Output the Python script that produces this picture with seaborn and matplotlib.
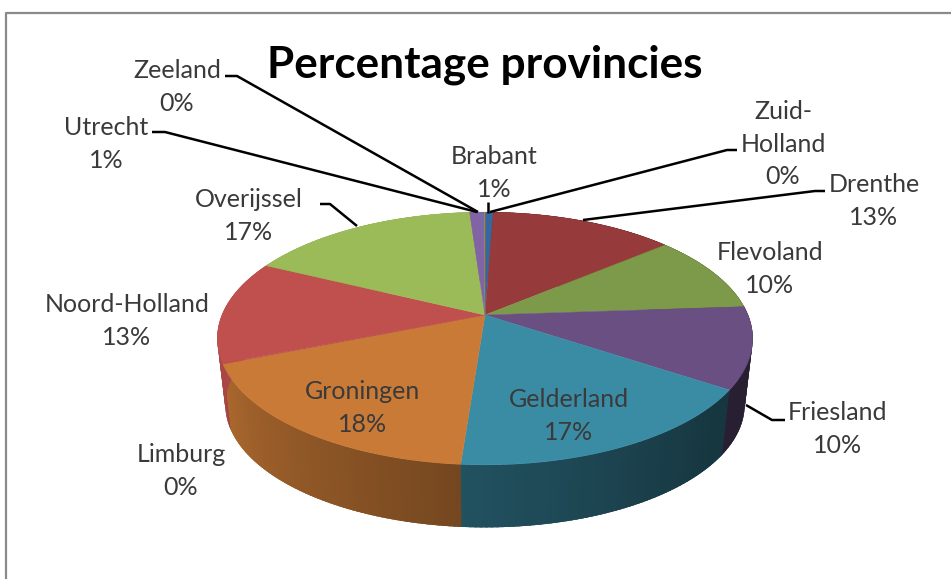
"""Percentage provincies: 3D-look pie, drawn with a perspective projection"""

import numpy as np
import matplotlib
matplotlib.use('Agg')
import matplotlib.pyplot as plt
import seaborn as sns

provinces = ['Brabant', 'Drenthe', 'Flevoland', 'Friesland', 'Gelderland', 'Groningen',
             'Limburg', 'Noord-Holland', 'Overijssel', 'Utrecht', 'Zeeland', 'Zuid-Holland']
percent = [0.6, 13.3, 10.0, 10.4, 16.9, 17.7, 0.1, 13.2, 16.7, 1.0, 0.05, 0.05]
slice_colors = ['#35689F', '#963A3B', '#7C9A49', '#6A4F82', '#3A8CA5', '#C97A36',
                '#BF504E', '#BF504E', '#9BBB59', '#8264A6', '#3A8CA5', '#C97A36']

sns.set_theme(style='white')
plt.rcParams['font.family'] = ['Lato', 'DejaVu Sans']
palette = sns.color_palette(slice_colors)

# pie geometry in pixels
CX, CY = 485, 315
A, B, K = 263, 122, 0.186
DEPTH, BOTTOM_SCALE = 67, 0.97
TEXT = '#3A3A3A'


def project(t, scale=1.0, dy=0.0):
    """t = clockwise angle from the top (radians), gives x, y on the page"""
    w = 1 + K * np.cos(t)
    return CX + scale * A * np.sin(t) / w, CY + dy - scale * B * np.cos(t) / w


def wall_shade(deg):
    # the side gets lighter towards the left
    return np.interp(deg, [90, 130, 184, 250, 270], [0.39, 0.39, 0.58, 0.86, 0.9])


fig = plt.figure(figsize=(9.51, 5.79), dpi=100)
ax = fig.add_axes([0, 0, 1, 1])
ax.set_xlim(0, 951)
ax.set_ylim(579, 0)
ax.axis('off')

# chart frame
ax.plot([5.5, 5.5, 951], [579, 12.5, 12.5], color='#8A8A8A', lw=1.6, zorder=0)

edges = np.cumsum([0] + percent) / sum(percent) * 360

# side wall, each strip runs on under the next one so no seams show
for i, color in enumerate(palette):
    start, end = edges[i], edges[i + 1]
    steps = np.append(np.arange(start, end, 1.0), end)
    for d0, d1 in zip(steps[:-1], steps[1:]):
        seg = np.radians(np.linspace(d0, d1 + 1.5, 4))
        x_top, y_top = project(seg)
        x_bot, y_bot = project(seg, BOTTOM_SCALE, DEPTH)
        shade = wall_shade((d0 + d1) / 2)
        rgb = tuple(c * shade for c in color)
        ax.fill(np.r_[x_top, x_bot[::-1]], np.r_[y_top, y_bot[::-1]],
                facecolor=rgb, edgecolor='none', zorder=2)

# top face
for i, color in enumerate(palette):
    arc = np.radians(np.linspace(edges[i], edges[i + 1], 80))
    x_arc, y_arc = project(arc)
    ax.fill(np.r_[CX, x_arc], np.r_[CY, y_arc], color=color, lw=0.3, zorder=3)

# label centres and leader lines
label_pos = {
    'Brabant': (494, 173), 'Drenthe': (874, 201), 'Flevoland': (770, 269),
    'Friesland': (838, 429), 'Gelderland': (569, 416), 'Groningen': (363, 408),
    'Limburg': (181, 471), 'Noord-Holland': (127, 321), 'Overijssel': (249, 216),
    'Utrecht': (106, 144), 'Zeeland': (177, 87), 'Zuid-Holland': (783, 144),
}
leaders = [
    [(225, 76), (237, 76), (478, 212)],
    [(152, 132), (165, 132), (477, 212)],
    [(488, 202), (488, 213)],
    [(737, 150), (727, 150), (490, 212)],
    [(825, 191), (815, 191), (583, 220)],
    [(320, 204), (330, 204), (357, 226)],
    [(746, 405), (772, 420), (785, 420)],
]
for pts in leaders:
    xs, ys = zip(*pts)
    ax.plot(xs, ys, color='black', lw=1.8, solid_capstyle='butt', zorder=4)

for name, value in zip(provinces, percent):
    x, y = label_pos[name]
    shown = 'Zuid-\nHolland' if name == 'Zuid-Holland' else name
    ax.text(x, y, f'{shown}\n{round(value)}%', ha='center', va='center',
            fontsize=18, color=TEXT, linespacing=1.5, zorder=5)

ax.text(485, 65, 'Percentage provincies', ha='center', va='center',
        fontsize=31.8, fontweight='bold', color='black', zorder=5)

fig.savefig('out.png', dpi=100)
